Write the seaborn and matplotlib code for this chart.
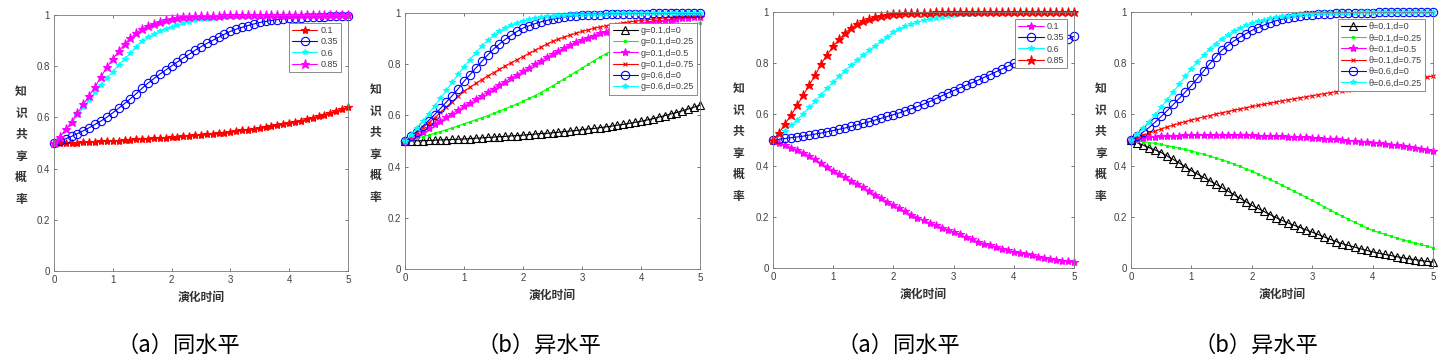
import numpy as np
import pandas as pd
import seaborn as sns
import matplotlib.pyplot as plt
from matplotlib.ticker import FuncFormatter

# evolution time grid (0 to 5, one marker every 0.1)
t = np.linspace(0, 5, 51)

# ---- panel 1: (a) same level, first case ----
p1_01 = [0.500, 0.500, 0.501, 0.501, 0.502, 0.503, 0.504, 0.505, 0.506, 0.507,
         0.508, 0.509, 0.511, 0.512, 0.514, 0.515, 0.517, 0.518, 0.520, 0.521,
         0.523, 0.525, 0.527, 0.529, 0.530, 0.532, 0.534, 0.537, 0.539, 0.541,
         0.544, 0.547, 0.549, 0.552, 0.555, 0.558, 0.562, 0.565, 0.569, 0.573,
         0.577, 0.582, 0.587, 0.593, 0.599, 0.605, 0.611, 0.618, 0.625, 0.632,
         0.640]
p1_035 = [0.500, 0.508, 0.517, 0.526, 0.537, 0.548, 0.560, 0.573, 0.586, 0.601,
          0.618, 0.636, 0.654, 0.673, 0.693, 0.714, 0.734, 0.752, 0.769, 0.785,
          0.801, 0.817, 0.832, 0.847, 0.862, 0.876, 0.889, 0.901, 0.913, 0.925,
          0.936, 0.945, 0.952, 0.959, 0.965, 0.971, 0.975, 0.979, 0.982, 0.985,
          0.987, 0.989, 0.990, 0.991, 0.992, 0.993, 0.994, 0.995, 0.995, 0.996,
          0.996]
p1_06 = [0.500, 0.524, 0.550, 0.577, 0.608, 0.640, 0.670, 0.698, 0.726, 0.753,
         0.779, 0.804, 0.828, 0.851, 0.877, 0.900, 0.914, 0.927, 0.938, 0.947,
         0.955, 0.962, 0.968, 0.974, 0.979, 0.983, 0.986, 0.989, 0.991, 0.993,
         0.995, 0.996, 0.997, 0.997, 0.998, 0.998, 0.998, 0.999, 0.999, 0.999,
         0.999, 0.999, 1.000, 1.000, 1.000, 1.000, 1.000, 1.000, 1.000, 1.000,
         1.000]
p1_085 = [0.500, 0.525, 0.553, 0.583, 0.616, 0.651, 0.685, 0.720, 0.759, 0.796,
          0.827, 0.859, 0.885, 0.909, 0.930, 0.945, 0.957, 0.966, 0.974, 0.980,
          0.985, 0.988, 0.991, 0.993, 0.995, 0.996, 0.997, 0.998, 0.998, 0.999,
          0.999, 0.999, 0.999, 1.000, 1.000, 1.000, 1.000, 1.000, 1.000, 1.000,
          1.000, 1.000, 1.000, 1.000, 1.000, 1.000, 1.000, 1.000, 1.000, 1.000,
          1.000]

# ---- panel 2: (b) different level, first case ----
p2_g01_d0 = list(p1_01)  # black curve coincides with the 0.1 curve of panel 1
p2_g01_d025 = [0.500, 0.505, 0.511, 0.517, 0.523, 0.530, 0.537, 0.544, 0.551, 0.559,
               0.567, 0.575, 0.583, 0.591, 0.599, 0.608, 0.617, 0.626, 0.635, 0.645,
               0.655, 0.666, 0.677, 0.689, 0.702, 0.715, 0.729, 0.743, 0.757, 0.771,
               0.785, 0.799, 0.813, 0.827, 0.840, 0.852, 0.863, 0.874, 0.884, 0.894,
               0.903, 0.911, 0.919, 0.926, 0.933, 0.939, 0.944, 0.949, 0.954, 0.958,
               0.962]
p2_g01_d05 = [0.500, 0.512, 0.524, 0.537, 0.551, 0.565, 0.579, 0.593, 0.607, 0.621,
              0.635, 0.649, 0.663, 0.677, 0.691, 0.705, 0.719, 0.732, 0.746, 0.759,
              0.772, 0.786, 0.800, 0.814, 0.827, 0.840, 0.852, 0.864, 0.875, 0.886,
              0.895, 0.904, 0.912, 0.920, 0.927, 0.933, 0.938, 0.943, 0.948, 0.952,
              0.956, 0.960, 0.963, 0.967, 0.970, 0.973, 0.976, 0.979, 0.981, 0.983,
              0.985]
p2_g01_d075 = [0.500, 0.518, 0.536, 0.554, 0.572, 0.590, 0.612, 0.633, 0.654, 0.674,
               0.694, 0.710, 0.725, 0.740, 0.754, 0.767, 0.780, 0.793, 0.806, 0.818,
               0.830, 0.842, 0.854, 0.866, 0.878, 0.889, 0.898, 0.906, 0.914, 0.921,
               0.928, 0.934, 0.940, 0.945, 0.950, 0.954, 0.958, 0.962, 0.965, 0.968,
               0.971, 0.973, 0.976, 0.978, 0.980, 0.982, 0.984, 0.985, 0.987, 0.988,
               0.989]
p2_g06_d0 = [0.500, 0.518, 0.537, 0.558, 0.580, 0.603, 0.627, 0.652, 0.677, 0.704,
             0.733, 0.759, 0.785, 0.811, 0.836, 0.859, 0.879, 0.897, 0.913, 0.928,
             0.941, 0.950, 0.958, 0.965, 0.971, 0.976, 0.980, 0.984, 0.987, 0.989,
             0.991, 0.992, 0.993, 0.994, 0.995, 0.996, 0.996, 0.997, 0.997, 0.998,
             0.998, 0.998, 0.999, 0.999, 0.999, 0.999, 0.999, 1.000, 1.000, 1.000,
             1.000]
p2_g06_d025 = [0.500, 0.524, 0.550, 0.578, 0.606, 0.636, 0.667, 0.698, 0.729, 0.760,
               0.790, 0.818, 0.845, 0.870, 0.893, 0.913, 0.929, 0.942, 0.953, 0.962,
               0.969, 0.975, 0.980, 0.984, 0.987, 0.990, 0.992, 0.994, 0.995, 0.996,
               0.997, 0.997, 0.998, 0.998, 0.998, 0.999, 0.999, 0.999, 0.999, 1.000,
               1.000, 1.000, 1.000, 1.000, 1.000, 1.000, 1.000, 1.000, 1.000, 1.000,
               1.000]

# ---- panel 3: (a) same level, second case ----
p3_01 = [0.500, 0.490, 0.480, 0.470, 0.461, 0.451, 0.437, 0.424, 0.410, 0.395,
         0.380, 0.367, 0.354, 0.341, 0.328, 0.315, 0.301, 0.287, 0.273, 0.259,
         0.245, 0.233, 0.221, 0.209, 0.197, 0.186, 0.176, 0.167, 0.158, 0.149,
         0.140, 0.131, 0.121, 0.112, 0.103, 0.095, 0.088, 0.082, 0.075, 0.069,
         0.063, 0.058, 0.053, 0.049, 0.044, 0.040, 0.036, 0.033, 0.029, 0.026,
         0.023]
p3_035 = [0.500, 0.503, 0.506, 0.509, 0.512, 0.515, 0.519, 0.523, 0.527, 0.532,
          0.537, 0.542, 0.547, 0.553, 0.559, 0.565, 0.571, 0.578, 0.585, 0.592,
          0.599, 0.606, 0.614, 0.622, 0.631, 0.640, 0.650, 0.661, 0.672, 0.683,
          0.693, 0.703, 0.713, 0.723, 0.733, 0.744, 0.755, 0.766, 0.777, 0.788,
          0.799, 0.810, 0.821, 0.832, 0.843, 0.854, 0.865, 0.875, 0.885, 0.895,
          0.905]
p3_06 = [0.500, 0.518, 0.537, 0.557, 0.579, 0.603, 0.627, 0.652, 0.677, 0.702,
         0.727, 0.749, 0.771, 0.792, 0.812, 0.832, 0.851, 0.869, 0.886, 0.904,
         0.922, 0.934, 0.944, 0.953, 0.960, 0.967, 0.973, 0.978, 0.982, 0.986,
         0.989, 0.991, 0.993, 0.994, 0.995, 0.996, 0.997, 0.997, 0.998, 0.998,
         0.998, 0.999, 0.999, 0.999, 0.999, 1.000, 1.000, 1.000, 1.000, 1.000,
         1.000]
p3_085 = [0.500, 0.527, 0.564, 0.596, 0.635, 0.674, 0.714, 0.753, 0.798, 0.833,
          0.866, 0.893, 0.918, 0.938, 0.952, 0.965, 0.973, 0.980, 0.985, 0.989,
          0.992, 0.994, 0.995, 0.996, 0.997, 0.998, 0.998, 0.999, 0.999, 0.999,
          1.000, 1.000, 1.000, 1.000, 1.000, 1.000, 1.000, 1.000, 1.000, 1.000,
          1.000, 1.000, 1.000, 1.000, 1.000, 1.000, 1.000, 1.000, 1.000, 1.000,
          1.000]

# ---- panel 4: (b) different level, second case ----
p4_t01_d0 = list(p3_01)  # black curve coincides with the 0.1 curve of panel 3
p4_t01_d025 = [0.500, 0.497, 0.494, 0.490, 0.487, 0.483, 0.478, 0.473, 0.468, 0.463,
               0.457, 0.451, 0.444, 0.437, 0.430, 0.423, 0.415, 0.406, 0.397, 0.388,
               0.378, 0.368, 0.357, 0.346, 0.335, 0.323, 0.312, 0.300, 0.288, 0.276,
               0.264, 0.252, 0.239, 0.227, 0.214, 0.202, 0.190, 0.179, 0.168, 0.157,
               0.147, 0.139, 0.132, 0.124, 0.117, 0.111, 0.104, 0.098, 0.092, 0.085,
               0.079]
p4_t01_d05 = [0.500, 0.504, 0.507, 0.510, 0.512, 0.514, 0.515, 0.516, 0.517, 0.518,
              0.518, 0.519, 0.519, 0.519, 0.519, 0.519, 0.519, 0.519, 0.519, 0.518,
              0.518, 0.517, 0.517, 0.516, 0.515, 0.514, 0.513, 0.512, 0.511, 0.510,
              0.508, 0.507, 0.505, 0.504, 0.502, 0.500, 0.498, 0.496, 0.494, 0.492,
              0.490, 0.487, 0.485, 0.482, 0.479, 0.476, 0.473, 0.470, 0.466, 0.462,
              0.458]
p4_t01_d075 = [0.500, 0.509, 0.518, 0.526, 0.535, 0.543, 0.551, 0.558, 0.565, 0.572,
               0.578, 0.584, 0.590, 0.595, 0.601, 0.606, 0.611, 0.616, 0.621, 0.626,
               0.631, 0.635, 0.640, 0.644, 0.648, 0.653, 0.657, 0.661, 0.665, 0.669,
               0.673, 0.677, 0.681, 0.685, 0.689, 0.692, 0.696, 0.700, 0.703, 0.707,
               0.711, 0.715, 0.719, 0.722, 0.726, 0.730, 0.734, 0.738, 0.742, 0.746,
               0.750]
p4_t06_d0 = [0.500, 0.515, 0.531, 0.549, 0.570, 0.592, 0.615, 0.639, 0.663, 0.688,
             0.713, 0.741, 0.769, 0.797, 0.824, 0.850, 0.869, 0.886, 0.901, 0.915,
             0.928, 0.939, 0.949, 0.958, 0.966, 0.972, 0.977, 0.981, 0.985, 0.988,
             0.990, 0.992, 0.993, 0.994, 0.995, 0.996, 0.997, 0.997, 0.998, 0.998,
             0.998, 0.999, 0.999, 0.999, 0.999, 0.999, 1.000, 1.000, 1.000, 1.000,
             1.000]
p4_t06_d025 = [0.500, 0.522, 0.546, 0.572, 0.599, 0.627, 0.658, 0.689, 0.719, 0.749,
               0.779, 0.806, 0.832, 0.856, 0.877, 0.896, 0.912, 0.926, 0.938, 0.948,
               0.957, 0.964, 0.970, 0.975, 0.980, 0.983, 0.986, 0.989, 0.991, 0.993,
               0.994, 0.995, 0.996, 0.997, 0.997, 0.998, 0.998, 0.998, 0.999, 0.999,
               0.999, 0.999, 1.000, 1.000, 1.000, 1.000, 1.000, 1.000, 1.000, 1.000,
               1.000]

# (label, values, color, marker, markersize, filled)
panels = [
    [("0.1", p1_01, "red", "*", 6, True),
     ("0.35", p1_035, "blue", "o", 6, False),
     ("0.6", p1_06, "cyan", "*", 4, True),
     ("0.85", p1_085, "magenta", "*", 6.5, True)],
    [("g=0.1,d=0", p2_g01_d0, "black", "^", 6, False),
     ("g=0.1,d=0.25", p2_g01_d025, "lime", "s", 2, True),
     ("g=0.1,d=0.5", p2_g01_d05, "magenta", "*", 6, True),
     ("g=0.1,d=0.75", p2_g01_d075, "red", "x", 3, True),
     ("g=0.6,d=0", p2_g06_d0, "blue", "o", 6, False),
     ("g=0.6,d=0.25", p2_g06_d025, "cyan", "*", 4, True)],
    [("0.1", p3_01, "magenta", "*", 6, True),
     ("0.35", p3_035, "blue", "o", 6, False),
     ("0.6", p3_06, "cyan", "*", 4, True),
     ("0.85", p3_085, "red", "*", 6.5, True)],
    [("θ=0.1,d=0", p4_t01_d0, "black", "^", 6, False),
     ("θ=0.1,d=0.25", p4_t01_d025, "lime", "s", 2, True),
     ("θ=0.1,d=0.5", p4_t01_d05, "magenta", "*", 6, True),
     ("θ=0.1,d=0.75", p4_t01_d075, "red", "x", 3, True),
     ("θ=0.6,d=0", p4_t06_d0, "blue", "o", 6, False),
     ("θ=0.6,d=0.25", p4_t06_d025, "cyan", "*", 4, True)],
]
captions = ["（a）同水平", "（b）异水平", "（a）同水平", "（b）异水平"]

rects = [[0.0374, 0.2534, 0.2037, 0.7052],
         [0.2807, 0.2590, 0.2044, 0.7052],
         [0.5357, 0.2617, 0.2086, 0.7052],
         [0.7838, 0.2617, 0.2093, 0.7052]]
legend_anchor = [(0.976, 0.969), (0.99, 0.961), (0.977, 0.973), (0.974, 0.973)]
caption_x = [178, 539, 898, 1256]
ylabel_x = [-0.112, -0.10, -0.115, -0.10]

sns.set_style("ticks")
plt.rcParams['font.family'] = ['Liberation Sans', 'Noto Sans CJK SC', 'DejaVu Sans']
cjk = ['Noto Sans CJK SC', 'DejaVu Sans']

fig = plt.figure(figsize=(14.43, 3.63), dpi=100)

for i, series in enumerate(panels):
    ax = fig.add_axes(rects[i])
    for label, vals, color, marker, ms, filled in series:
        df = pd.DataFrame({"t": t, "p": vals})
        sns.lineplot(data=df, x="t", y="p", ax=ax, color=color, label=label,
                     marker=marker, markersize=ms, linewidth=0.8,
                     markerfacecolor=color if filled else "none",
                     markeredgecolor=color, markeredgewidth=0.8,
                     clip_on=False)
    ax.set_xlim(0, 5)
    ax.set_ylim(0, 1)
    ax.set_xticks([0, 1, 2, 3, 4, 5])
    ax.set_yticks([0, 0.2, 0.4, 0.6, 0.8, 1])
    ax.yaxis.set_major_formatter(FuncFormatter(lambda v, pos: f"{v:g}"))
    ax.tick_params(direction="in", length=2.5, width=0.5, labelsize=7,
                   colors="#404040", top=True, right=True, pad=3)
    for s in ax.spines.values():
        s.set_color("#7a7a7a")
        s.set_linewidth(0.6)
    ax.set_xlabel("演化时间", family=cjk, fontsize=8.5, fontweight="bold",
                  color="#333333", labelpad=4)
    ax.set_ylabel("知\n识\n共\n享\n概\n率", family=cjk, fontsize=8.5,
                  fontweight="bold", color="#333333", rotation=0,
                  va="center", ha="center", linespacing=1.85)
    ax.yaxis.set_label_coords(ylabel_x[i], 0.49)
    leg = ax.legend(loc="upper right", bbox_to_anchor=legend_anchor[i],
                    borderaxespad=0, fontsize=6.5, frameon=True, fancybox=False,
                    handlelength=2.8, handletextpad=0.3, labelspacing=0.25,
                    borderpad=0.35, numpoints=1)
    leg.get_frame().set_edgecolor("#7a7a7a")
    leg.get_frame().set_linewidth(0.6)
    leg.get_frame().set_alpha(1)
    for txt in leg.get_texts():
        txt.set_color("#404040")
    fig.text(caption_x[i] / 1443, 1 - 345 / 363, captions[i], family=cjk,
             fontsize=16, ha="center", va="center", color="black")

fig.savefig("out.png", dpi=100)
